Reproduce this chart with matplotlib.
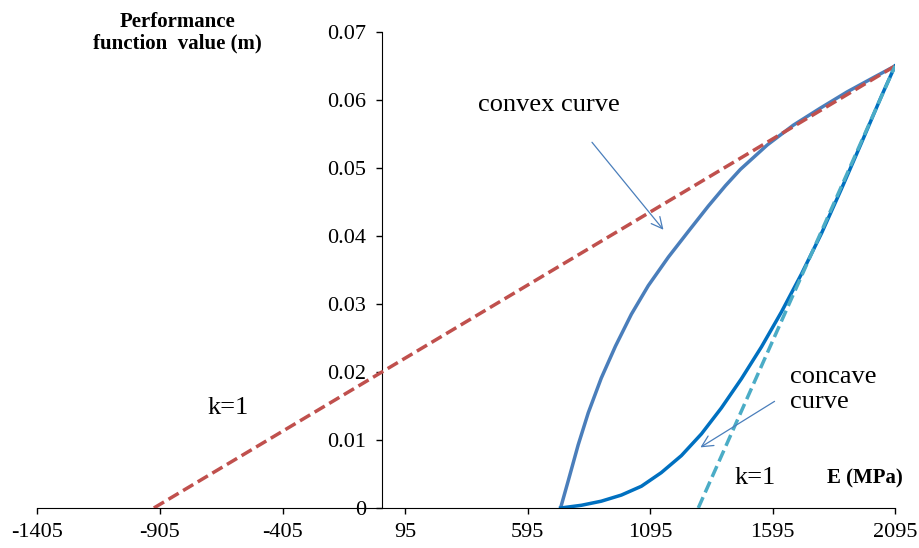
import matplotlib
matplotlib.use("Agg")
import matplotlib.pyplot as plt

# points
convex_x = [730, 762, 802, 843, 896, 954, 1019, 1088, 1170, 1252, 1333, 1403,
            1464, 1574, 1680, 1790, 1900, 2007, 2095]
convex_y = [0, 0.0041, 0.0093, 0.0140, 0.0191, 0.0238, 0.0285, 0.0327, 0.0369,
            0.0407, 0.0444, 0.0474, 0.0498, 0.0534, 0.0563, 0.0588, 0.0612, 0.0633, 0.065]

concave_x = [730, 815, 896, 978, 1060, 1141, 1223, 1305, 1386, 1468, 1550,
             1631, 1713, 1795, 1876, 1958, 2040, 2095]
concave_y = [0, 0.0004, 0.0010, 0.0019, 0.0032, 0.0052, 0.0077, 0.0109, 0.0147,
             0.0190, 0.0237, 0.0288, 0.0344, 0.0404, 0.0469, 0.0537, 0.0606, 0.065]

red_x = [-930, 2095]
red_y = [0, 0.065]

cyan_x = [1292, 2095]
cyan_y = [0, 0.065]

xticks = [-1405, -905, -405, 95, 595, 1095, 1595, 2095]
yticks = [0, 0.01, 0.02, 0.03, 0.04, 0.05, 0.06, 0.07]

plt.rcParams["font.family"] = ["Liberation Serif", "DejaVu Serif"]

fig = plt.figure(figsize=(9.19, 5.48), dpi=100)
ax = fig.add_axes([0.0408, 0.073, 0.9331, 0.8686])

ax.plot(red_x, red_y, c="#C0504D", lw=2.5, ls=(0, (3.4, 1.5)), zorder=3)
ax.plot(convex_x, convex_y, c="#4A7EBB", lw=2.5, zorder=2)
ax.plot(concave_x, concave_y, c="#0070C0", lw=2.5, zorder=2)
ax.plot(cyan_x, cyan_y, c="#4BACC6", lw=2.5, ls=(0, (3.4, 1.5)), zorder=3)

ax.set_xlim(-1405, 2095)
ax.set_ylim(0, 0.07)
ax.spines["left"].set_position(("data", 0))
ax.spines["top"].set_visible(False)
ax.spines["right"].set_visible(False)
ax.set_xticks(xticks)
ax.set_xticklabels([str(t) for t in xticks])
ax.set_yticks(yticks)
ax.set_yticklabels(["0"] + ["%.2f" % t for t in yticks[1:]])
ax.tick_params(axis="both", labelsize=16, length=4.5, width=1, direction="out")
ax.tick_params(axis="x", pad=6)
ax.tick_params(axis="y", pad=7)

# annotations
ax.text(683, 0.0593, "convex curve", fontsize=19, ha="center", va="center")
ax.annotate("", xy=(1157, 0.0406), xytext=(851, 0.0541),
            arrowprops=dict(arrowstyle="->", color="#4A7EBB", lw=0.9, mutation_scale=20))
ax.text(1666, 0.0174, "concave\ncurve", fontsize=19, ha="left", va="center", linespacing=1.15)
ax.annotate("", xy=(1291, 0.0087), xytext=(1613, 0.0159),
            arrowprops=dict(arrowstyle="->", color="#4A7EBB", lw=0.9, mutation_scale=20))
ax.text(-626, 0.0147, "k=1", fontsize=19, ha="center", va="center")
ax.text(1523, 0.0044, "k=1", fontsize=19, ha="center", va="center")
ax.text(1970, 0.0044, "E (MPa)", fontsize=15, fontweight="bold", ha="center", va="center")

fig.text(177 / 919, 1 - 33 / 548, "Performance\nfunction  value (m)", fontsize=15,
         fontweight="bold", ha="center", va="center", linespacing=1.1)

fig.savefig("out.png", dpi=100)
